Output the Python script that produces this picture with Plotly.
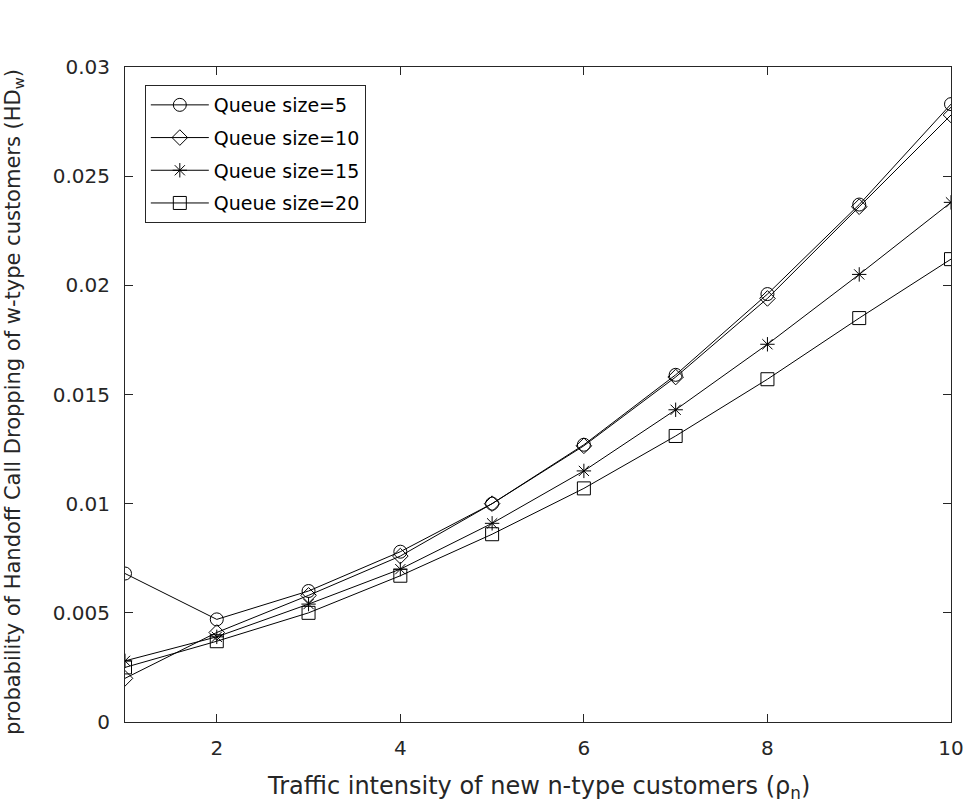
import plotly.graph_objects as go

# Traffic intensity of new n-type customers
rho_n = [1, 2, 3, 4, 5, 6, 7, 8, 9, 10]

# Handoff call dropping probability for each queue size
hd_q5 = [0.0068, 0.0047, 0.0060, 0.0078, 0.0100, 0.0127, 0.0159, 0.0196, 0.0237, 0.0283]
hd_q10 = [0.0020, 0.0041, 0.0058, 0.0076, 0.0100, 0.01265, 0.0158, 0.0194, 0.0236, 0.0278]
hd_q15 = [0.0028, 0.0039, 0.0054, 0.0070, 0.0091, 0.0115, 0.0143, 0.0173, 0.0205, 0.0238]
hd_q20 = [0.0025, 0.0037, 0.0050, 0.0067, 0.0086, 0.0107, 0.0131, 0.0157, 0.0185, 0.0212]

series_names = ["Queue size=5", "Queue size=10", "Queue size=15", "Queue size=20"]
series_values = [hd_q5, hd_q10, hd_q15, hd_q20]
symbols = ["circle-open", "diamond-open", "asterisk-open", "square-open"]
sizes = [13, 12, 12, 13]

x_ticks = [2, 4, 6, 8, 10]
y_ticks = [0, 0.005, 0.01, 0.015, 0.02, 0.025, 0.03]
y_labels = ["0", "0.005", "0.01", "0.015", "0.02", "0.025", "0.03"]

x_title = "Traffic intensity of new n-type customers (ρ<sub>n</sub>)"
y_title = "probability of Handoff Call Dropping of w-type customers (HD<sub>w</sub>)"

axis_color = "#262626"
font_family = "DejaVu Sans, Liberation Sans, Arial, sans-serif"

fig = go.Figure()
for i, (name, vals, sym, sz) in enumerate(zip(series_names, series_values, symbols, sizes)):
    fig.add_trace(go.Scatter(
        x=rho_n, y=vals, name=name, mode="lines+markers",
        legendgroup=f"g{i}",
        line=dict(color="black", width=1),
        marker=dict(symbol=sym, size=sz, color="black",
                    line=dict(color="black", width=1)),
    ))

fig.update_layout(
    width=976, height=810,
    margin=dict(l=125, r=18, t=67, b=88),
    paper_bgcolor="white", plot_bgcolor="white",
    font=dict(family=font_family, color=axis_color, size=18),
    showlegend=True,
    legend=dict(
        x=0.024, y=0.9725, xanchor="left", yanchor="top",
        bgcolor="white", bordercolor=axis_color, borderwidth=1,
        font=dict(size=19, color="black"),
        tracegroupgap=5,
        itemwidth=58,
    ),
)

fig.update_xaxes(
    range=[1, 10], tickvals=x_ticks, ticks="inside", ticklen=8,
    tickcolor=axis_color, showline=True, linecolor=axis_color, linewidth=1,
    mirror="ticks", showgrid=False, zeroline=False,
    tickfont=dict(size=20), ticklabelstandoff=8,
)
fig.update_yaxes(
    range=[0, 0.03], tickvals=y_ticks, ticktext=y_labels, ticks="inside", ticklen=8,
    tickcolor=axis_color, showline=True, linecolor=axis_color, linewidth=1,
    mirror="ticks", showgrid=False, zeroline=False,
    tickfont=dict(size=20), ticklabelstandoff=10,
)

# Axis titles placed as paper-anchored annotations
fig.add_annotation(
    text=x_title, xref="paper", yref="paper",
    x=0.5, y=-0.1, xanchor="center", yanchor="middle",
    showarrow=False, font=dict(size=24, color=axis_color),
)
fig.add_annotation(
    text=y_title, xref="paper", yref="paper",
    x=-(125 - 13) / 833, y=0.4885, xanchor="center", yanchor="middle",
    textangle=-90, showarrow=False, font=dict(size=21, color=axis_color),
)

fig.write_html("out.html")
